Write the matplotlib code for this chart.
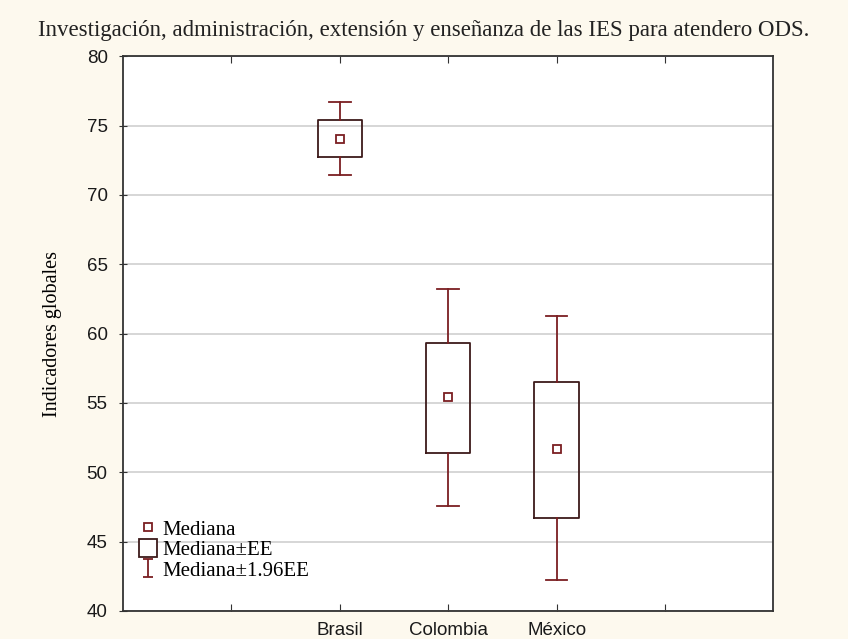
import numpy as np
import matplotlib
matplotlib.use("Agg")
import matplotlib.pyplot as plt
from matplotlib.lines import Line2D
from matplotlib.path import Path

# datos
paises = ["Brasil", "Colombia", "México"]
mediana = [74.0, 55.4, 51.7]
ee_sup = [75.4, 59.3, 56.5]
ee_inf = [72.7, 51.4, 46.7]
ic_sup = [76.7, 63.2, 61.3]
ic_inf = [71.4, 47.6, 42.2]

rojo = "#7b1f22"
oscuro = "#3d1a1a"
fondo = "#fdf9ee"

fig = plt.figure(figsize=(8.48, 6.39), dpi=100, facecolor=fondo)
ax = fig.add_axes([0.145, 0.044, 0.767, 0.868])
ax.set_facecolor("white")

pos = [2, 3, 4]
stats = []
for i in range(len(paises)):
    stats.append(dict(med=mediana[i], q1=ee_inf[i], q3=ee_sup[i],
                      whislo=ic_inf[i], whishi=ic_sup[i], mean=mediana[i],
                      fliers=[]))

ax.bxp(stats, positions=pos, widths=0.41, showmeans=True, showfliers=False,
       boxprops=dict(color=oscuro, linewidth=1.3),
       whiskerprops=dict(color=rojo, linewidth=1.3),
       capprops=dict(color=rojo, linewidth=1.3),
       medianprops=dict(linestyle="none"),
       meanprops=dict(marker="s", markersize=6, markerfacecolor="white",
                      markeredgecolor=rojo, markeredgewidth=1.3),
       capwidths=0.2, zorder=3)

ax.set_xlim(0, 6)
ax.set_ylim(40, 80)
ax.set_yticks(np.arange(40, 81, 5))
ax.set_xticks([1, 2, 3, 4, 5])
ax.set_xticklabels(["", "Brasil", "Colombia", "México", ""])
ax.grid(axis="y", color="#d0d0d0", linewidth=1.2, zorder=0)
ax.set_axisbelow(True)
ax.tick_params(axis="x", direction="in", top=True, length=5, color="#333333", pad=8)
ax.tick_params(axis="y", direction="inout", length=6, color="#333333", pad=8)
for lab in ax.get_xticklabels() + ax.get_yticklabels():
    lab.set_fontfamily("Liberation Sans")
    lab.set_fontsize(13.5)
    lab.set_color("#1a1a1a")
for s in ax.spines.values():
    s.set_color("#333333")
    s.set_linewidth(1.3)

ax.set_ylabel("Indicadores globales", fontfamily="Liberation Serif",
              fontsize=14.5, labelpad=18)
fig.suptitle("Investigación, administración, extensión y enseñanza de las IES para atendero ODS.",
             fontfamily="Liberation Serif", fontsize=16.5, x=0.5, y=0.968,
             color="#222222")

# simbolo de bigote para la leyenda
bigote = Path([(-0.5, 1), (0.5, 1), (0, 1), (0, -1), (-0.5, -1), (0.5, -1)],
              [Path.MOVETO, Path.LINETO, Path.MOVETO, Path.LINETO,
               Path.MOVETO, Path.LINETO])
h = [Line2D([], [], linestyle="none", marker="s", markersize=6,
            markerfacecolor="white", markeredgecolor=rojo, markeredgewidth=1.3),
     Line2D([], [], linestyle="none", marker="s", markersize=13,
            markerfacecolor="white", markeredgecolor=oscuro, markeredgewidth=1.3),
     Line2D([], [], linestyle="none", marker=bigote, markersize=13,
            markerfacecolor="none", markeredgecolor=rojo, markeredgewidth=1.3)]
ax.legend(h, ["Mediana", "Mediana±EE", "Mediana±1.96EE"], loc="lower left",
          bbox_to_anchor=(0.0, 0.028), frameon=False, handlelength=1.0,
          handletextpad=0.2, labelspacing=0.05, borderaxespad=0.3,
          prop=dict(family="Liberation Serif", size=15))

fig.savefig("out.png", dpi=100, facecolor=fondo)
